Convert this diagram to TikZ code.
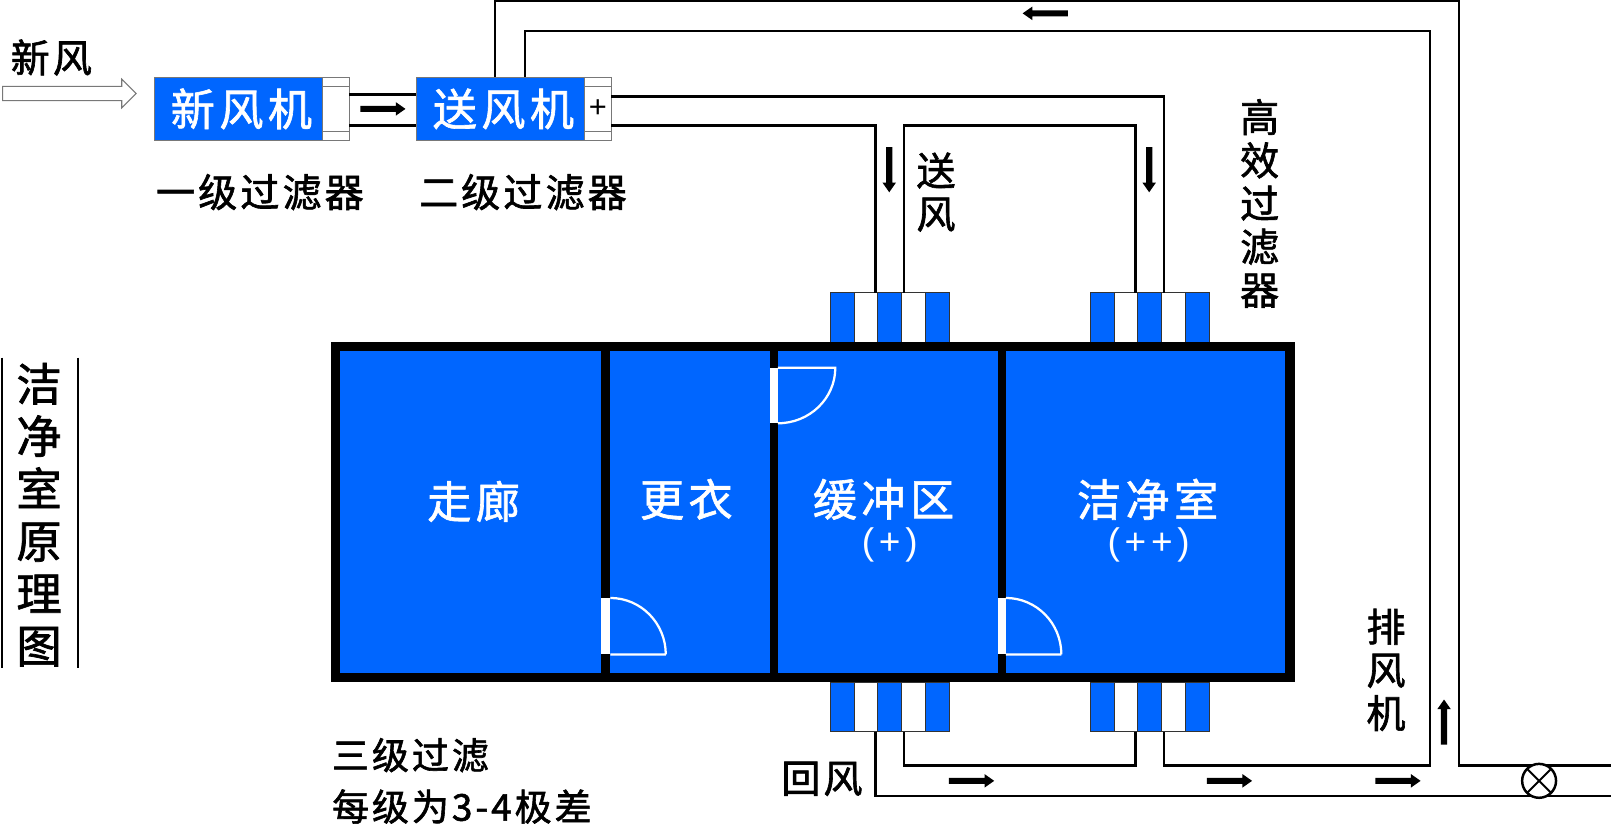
\documentclass[tikz,border=0pt]{standalone}
\usepackage{fontspec}
\setmainfont{Noto Sans CJK SC}
\newfontfamily\latinfont{Liberation Sans}
\usetikzlibrary{calc,positioning,shapes.arrows}
\definecolor{roomBlue}{RGB}{0,102,255}
\definecolor{edgeGray}{RGB}{120,120,120}
\newcommand{\labelfont}{\fontsize{36}{42}\selectfont\addfontfeature{LetterSpace=8,FakeBold=1.6}}
\newcommand{\widefont}{\fontsize{38}{42}\selectfont\addfontfeature{LetterSpace=8,FakeBold=1.6}}
\newcommand{\bigfont}{\fontsize{43}{47}\selectfont\addfontfeature{LetterSpace=10,FakeBold=1.4}}
\newcommand{\titlefont}{\fontsize{44}{51}\selectfont\addfontfeature{FakeBold=1.6}}
\tikzset{
  unitbox/.style={fill=roomBlue,draw=edgeGray,line width=1pt,text=white,minimum width=164pt,minimum height=62pt,inner sep=0pt,outer sep=0pt,font=\bigfont},
  filterbox/.style={fill=white,draw=edgeGray,line width=1pt,minimum width=26pt,minimum height=62pt,inner sep=0pt,outer sep=0pt},
  strip/.style={draw=black!80,line width=.8pt,minimum width=23.2pt,minimum height=48pt,inner sep=0pt,outer sep=0pt},
  duct/.style={line width=2.4pt,line join=miter},
  flowarrow/.style={single arrow,fill=black,inner xsep=0pt,inner ysep=2.8pt,minimum height=44pt,single arrow head extend=3.6pt,single arrow head indent=0pt,single arrow tip angle=70},
  roomtext/.style={text=white,font=\bigfont,inner sep=0pt},
  marktext/.style={text=white,inner sep=0pt,font=\latinfont\fontsize{36}{38}\selectfont\addfontfeature{LetterSpace=13}},
  labeltext/.style={inner sep=0pt,font=\labelfont},
  widetext/.style={inner sep=0pt,font=\widefont},
  stacktext/.style={inner sep=0pt,align=center,font=\widefont},
  door/.style={draw=white,line width=2.2pt},
  wall/.style={fill=black},
}
\begin{document}
\begin{tikzpicture}[x=1pt,y=-1pt]
\useasboundingbox (0,0) rectangle (1568,802);
\fill[white] (0,0) rectangle (1568,802);

% fresh air side
\node[widetext] (xflabel) at (50,56) {新风};
\node[single arrow,draw=edgeGray,fill=white,line width=1pt,inner xsep=0pt,inner ysep=6.5pt,minimum height=130pt,single arrow head extend=7pt,single arrow head indent=0pt,single arrow tip angle=90] (xfarrow) at (64,91) {};
\node[unitbox] (xfj) at (232,106) {\hspace*{6pt}新风机};
\node[filterbox,right=0pt of xfj] (xff) {};
\node[unitbox] (sfj) at (487,106) {\hspace*{6pt}送风机};
\node[filterbox,right=0pt of sfj,font=\latinfont\fontsize{30}{30}\selectfont] (sff) {+};
\foreach \f in {xff,sff}{
  \draw[edgeGray,line width=1pt] ($(\f.north west)+(0,9)$) -- ($(\f.north east)+(0,9)$);
  \draw[edgeGray,line width=1pt] ($(\f.south west)+(0,-9)$) -- ($(\f.south east)+(0,-9)$);
}
\node[widetext] (filterone) at (253,187) {一级过滤器};
\node[widetext] (filtertwo) at (509,187) {二级过滤器};

% ceiling and floor filters
\foreach \n/\x/\y/\a in {ta/808/309/north,tb/1061/309/north,ba/808/688/south,bb/1061/688/south}{
  \foreach \i [evaluate=\i as \cx using {\x+11.6+(\i-1)*23.2}] in {1,...,5}{
    \pgfmathtruncatemacro{\odd}{mod(\i,2)}
    \ifnum\odd=1
      \node[strip,fill=roomBlue] (\n\i) at (\cx,\y) {};
    \else
      \node[strip,fill=white] (\n\i) at (\cx,\y) {};
    \fi
  }
  \coordinate (\n L) at ($(\n3.\a)+(-14,0)$);
  \coordinate (\n R) at ($(\n3.\a)+(14,0)$);
}

% rooms
\node[draw=black,fill=roomBlue,line width=9pt,minimum width=929pt,minimum height=322pt,inner sep=0pt,outer sep=0pt] (shell) at (791,498.5) {};
\fill[wall] (585,338) rectangle (594,660);
\fill[wall] (749,338) rectangle (757.5,660);
\fill[wall] (971,338) rectangle (979,660);
\node[roomtext] (corridor) at (461,488) {走廊};
\node[roomtext] (changing) at (668,486) {更衣};
\node[roomtext] (buffer) at (860,486) {缓冲区};
\node[marktext] (bufferp) at (866,530) {(+)};
\node[roomtext] (cleanroom) at (1117,486) {洁净室};
\node[marktext] (cleanp) at (1118,530) {(++)};

% doors
\fill[white] (585,582) rectangle (594,637);
\draw[door] (594,637) -- (648,637) (594,582) arc[start angle=90,end angle=0,x radius=54pt,y radius=55pt];
\fill[white] (749,358) rectangle (757.5,412);
\draw[door] (757,358) -- (813,358) arc[start angle=0,end angle=-90,x radius=56pt,y radius=54pt];
\fill[white] (971,582) rectangle (979,637);
\draw[door] (979,637) -- (1033,637) (979,582) arc[start angle=90,end angle=0,x radius=54pt,y radius=55pt];

% ducts
\coordinate (supup) at ($(sff.east)+(0,-12)$);
\coordinate (suplo) at ($(sff.east)+(0,16)$);
\coordinate (joinout) at (tbL |- suplo);
\coordinate (exoutT) at (482,1);
\coordinate (exinT) at (511,30);
\coordinate (exoutR) at (1420,745);
\coordinate (exinR) at (1392,745);
\coordinate (endup) at (1568,745);
\coordinate (endlo) at (1568,775);
\coordinate (retin) at (bbL |- exinR);

\draw[duct] (xff.east |- 0,92) -- (sfj.west |- 0,92);
\draw[duct] (xff.east |- 0,122) -- (sfj.west |- 0,122);
\draw[duct] (supup) -| (tbR);
\draw[duct] (suplo) -| (taL);
\draw[duct] (taR) |- (joinout) -- (tbL);
\draw[duct] (sfj.north -| exoutT) |- (exoutT) -- (exoutT -| exoutR) -- (exoutR) -- (endup);
\draw[duct] (sfj.north -| exinT) |- (exinT) -- (exinT -| exinR) -- (exinR) -| (bbR);
\draw[duct] (baL) |- (endlo);
\draw[duct] (baR) |- (retin) -- (bbL);

% fan
\node[circle,draw=black,fill=white,line width=2.4pt,minimum size=33pt,inner sep=0pt,outer sep=0pt] (fan) at (1498,760) {};
\draw[line width=1.8pt] (fan.north west) -- (fan.south east) (fan.north east) -- (fan.south west);

% flow arrows
\foreach \n/\x/\y/\r in {ara/372/106/0,arb/867/163/-90,arc/1120/163/-90,ard/1021/13/180,are/945/760/0,arf/1196/760/0,arg/1360/760/0,arh/1407/705/90}{
  \node[flowarrow,rotate=\r] (\n) at (\x-1.5,\y) {};
}

% labels
\node[stacktext] (supplytext) at (911,187) {送\\风};
\node[stacktext] (hepatext) at (1226,198) {高\\效\\过\\滤\\器};
\node[stacktext] (exhausttext) at (1349,652) {排\\风\\机};
\node[widetext] (returntext) at (800,758) {回风};
\node[labeltext,anchor=west] (threetext) at (323,735) {三级过滤};
\node[labeltext,anchor=west] (gradetext) at (323,785) {每级为3-4极差};
\node[inner sep=0pt,align=center,font=\titlefont] (title) at (38,501) {洁\\净\\室\\原\\理\\图};
\coordinate (titleAt) at (2,348);
\coordinate (titleAb) at (2,650);
\coordinate (titleBt) at (76,348);
\coordinate (titleBb) at (76,650);
\draw[line width=2pt] (titleAt) -- (titleAb);
\draw[line width=2pt] (titleBt) -- (titleBb);
\end{tikzpicture}
\end{document}
